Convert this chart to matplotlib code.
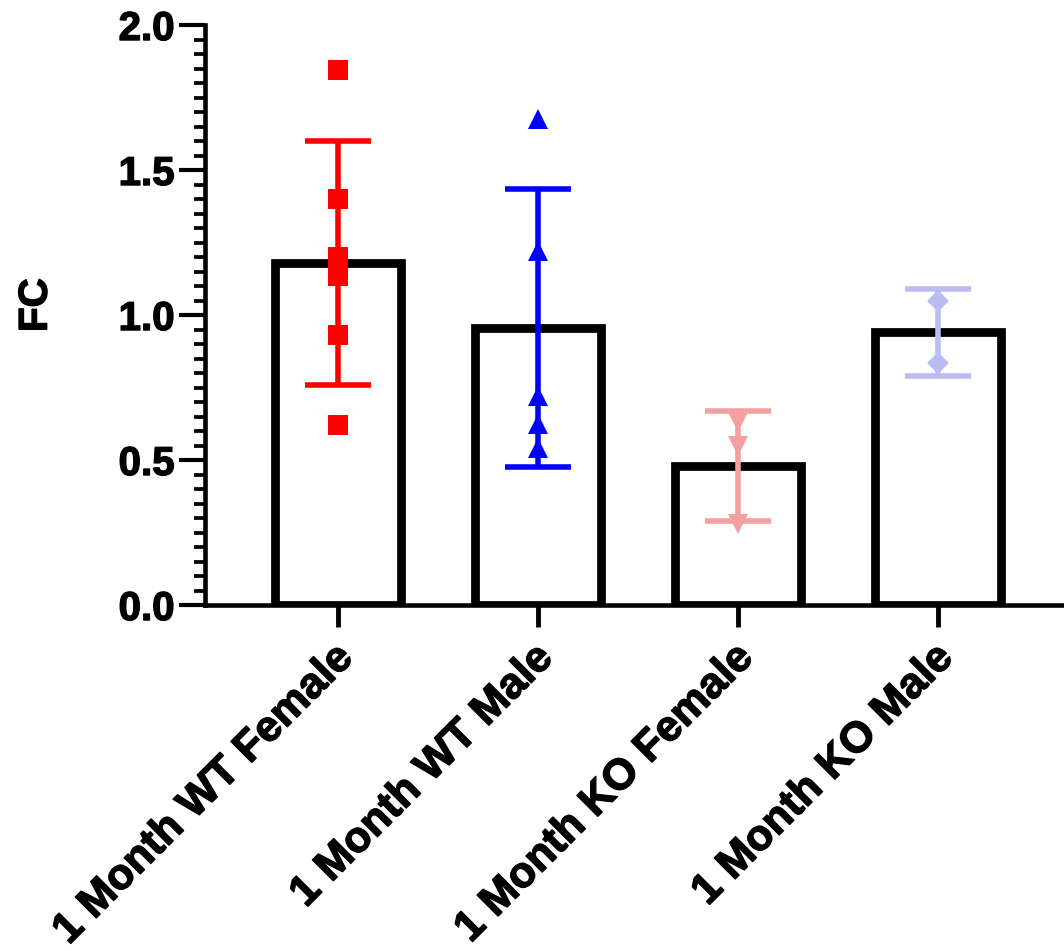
import numpy as np
import matplotlib.pyplot as plt
import matplotlib.patheffects as pe
import matplotlib.transforms as mtransforms
from matplotlib.ticker import MultipleLocator

plt.rcParams['font.family'] = ['Liberation Sans', 'DejaVu Sans']
plt.rcParams['font.weight'] = 'bold'

groups = ['1 Month WT Female', '1 Month WT Male', '1 Month KO Female', '1 Month KO Male']
means = [1.18, 0.955, 0.48, 0.94]
sds = [0.42, 0.48, 0.19, 0.15]
wt_female = [1.845, 1.40, 1.20, 1.135, 0.93, 0.62]
wt_male = [1.675, 1.22, 0.72, 0.625, 0.54]
ko_female = [0.63, 0.55, 0.28]
ko_male = [1.05, 0.835]

points = [wt_female, wt_male, ko_female, ko_male]
colors = ['#FF0000', '#0000FF', '#F4A0A0', '#BCBCF4']
markers = ['s', '^', 'v', 'D']
msizes = [14, 15, 15, 11]

fig = plt.figure(figsize=(10.64, 9.51), dpi=100)
ax = fig.add_axes([0.1927, 0.3638, 0.8073, 0.6099])

x = np.arange(len(groups))
ax.bar(x, means, width=0.63, facecolor='white', edgecolor='black', linewidth=6.3, zorder=1)

for i in range(len(groups)):
    ax.errorbar(x[i], means[i], yerr=sds[i], fmt='none', ecolor=colors[i],
                elinewidth=4, capsize=24, capthick=4, zorder=3)
    ax.plot([x[i]] * len(points[i]), points[i], linestyle='none', marker=markers[i],
            markersize=msizes[i], color=colors[i], markeredgewidth=0, zorder=4)

ax.set_xlim(-0.665, 3.63)
ax.set_ylim(0, 2.0)
ax.yaxis.set_major_locator(MultipleLocator(0.5))
ax.yaxis.set_minor_locator(MultipleLocator(0.05))
ax.yaxis.set_major_formatter(plt.FormatStrFormatter('%.1f'))

ax.spines['top'].set_visible(False)
ax.spines['right'].set_visible(False)
ax.spines['left'].set_linewidth(3.3)
ax.spines['bottom'].set_linewidth(3.3)
ax.spines['left'].set_capstyle('projecting')

ax.tick_params(axis='y', which='major', length=19, width=3, pad=3, labelsize=29)
ax.tick_params(axis='y', which='minor', length=8, width=2.7)
ax.tick_params(axis='x', which='major', length=16, width=3.5, pad=18, labelsize=31)

ax.set_xticks(x)
ax.set_xticklabels(groups, rotation=45, ha='right', va='center', rotation_mode='anchor')
shift = mtransforms.ScaledTranslation(6 / 72, 0, fig.dpi_scale_trans)
bold = [pe.withStroke(linewidth=1.0, foreground='black')]
for lab in ax.get_xticklabels():
    lab.set_transform(lab.get_transform() + shift)
for lab in ax.get_yticklabels() + ax.get_xticklabels():
    lab.set_fontweight('bold')
    lab.set_path_effects(bold)

ylab = ax.set_ylabel('FC', fontsize=29, fontweight='bold')
ylab.set_path_effects(bold)
ax.yaxis.set_label_coords(-0.175, 0.517)

plt.savefig('out.png', dpi=100)
